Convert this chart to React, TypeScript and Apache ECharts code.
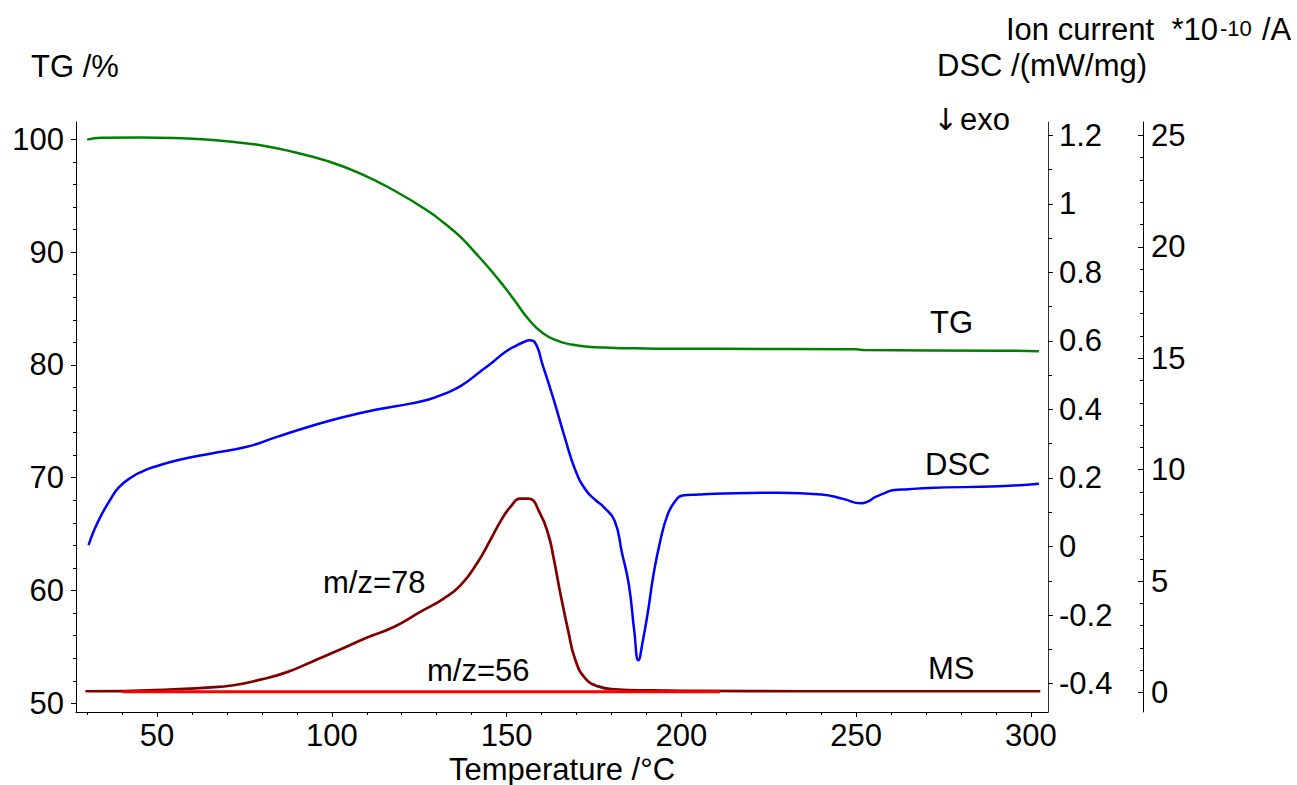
import React, { useEffect, useRef } from "react";
import * as echarts from "echarts";

// ---- data ----
const tgT = [30, 34, 45, 55, 63, 72, 80, 89, 98.6, 108.2, 117.7, 127.2, 132, 136.8, 141, 145.3, 149, 152.3, 156.4, 160.4, 164.5, 168.6, 172.7, 177, 181, 187, 193, 210, 250, 252.3, 291, 302.3];
const tgV = [99.97, 100.13, 100.16, 100.12, 100.0, 99.75, 99.45, 98.87, 98.08, 96.96, 95.48, 93.71, 92.6, 91.35, 89.95, 88.45, 87.05, 85.7, 84.0, 82.8, 82.15, 81.8, 81.62, 81.55, 81.5, 81.47, 81.44, 81.42, 81.38, 81.32, 81.26, 81.21];

const dscT = [30.4, 32, 34, 36.5, 39, 42.8, 46, 49, 56.7, 65.2, 75.7, 84.3, 93.9, 103.4, 112.9, 122.5, 127.7, 132, 136.8, 142.5, 146, 149.5, 152.5, 155, 156.5, 158, 160.4, 163.5, 166.6, 169.7, 172.7, 175.5, 177.8, 180.9, 183, 185, 186.5, 187.7, 189, 190.5, 192, 194, 196, 198, 200.3, 205, 209.4, 227.9, 240.1, 246.3, 251.4, 253.5, 255.4, 258, 260.4, 265, 270.7, 291.1, 302.3];
const dscV = [0.004, 0.048, 0.091, 0.135, 0.172, 0.203, 0.22, 0.232, 0.254, 0.271, 0.291, 0.32, 0.351, 0.378, 0.4, 0.417, 0.429, 0.445, 0.468, 0.511, 0.538, 0.567, 0.585, 0.597, 0.602, 0.597, 0.527, 0.428, 0.32, 0.222, 0.164, 0.135, 0.115, 0.075, -0.018, -0.113, -0.244, -0.332, -0.274, -0.186, -0.084, 0.018, 0.091, 0.129, 0.149, 0.152, 0.154, 0.157, 0.152, 0.139, 0.126, 0.132, 0.144, 0.155, 0.164, 0.167, 0.171, 0.176, 0.183];

const ms78T = [29.5, 40.4, 54.7, 64.3, 71.9, 79.5, 87.2, 94.8, 102.4, 110.1, 117.7, 125.3, 132.0, 136.8, 141.5, 145.3, 148.5, 151.1, 154.0, 156.3, 159.6, 162.0, 163.4, 165.4, 167.6, 169.7, 172.5, 176.2, 181.1, 191.1, 205.4, 234, 302.7];
const ms78V = [0.06, 0.07, 0.15, 0.22, 0.33, 0.58, 0.92, 1.42, 1.93, 2.47, 2.94, 3.62, 4.22, 4.81, 5.79, 6.83, 7.75, 8.33, 8.7, 8.7, 8.03, 7.06, 6.08, 4.44, 2.79, 1.45, 0.64, 0.28, 0.15, 0.1, 0.08, 0.06, 0.06];

const ms56T = [40, 100, 150, 211];
const ms56V = [0.04, 0.04, 0.04, 0.04];

const xTicks = [50, 100, 150, 200, 250, 300];
const tgTicks = [50, 60, 70, 80, 90, 100];
const dscTicks = [-0.4, -0.2, 0, 0.2, 0.4, 0.6, 0.8, 1, 1.2];
const ionTicks = [0, 5, 10, 15, 20, 25];

const FONT = '"Liberation Sans", Arial, sans-serif';
const FS = 31;

const zip = (a: number[], b: number[]) => a.map((v, i) => [v, b[i]]);

export default function App() {
  const ref = useRef<HTMLDivElement>(null);
  useEffect(() => {
    if (!ref.current) return;
    const chart = echarts.init(ref.current, null, { renderer: "svg" });
    const labelStyle = { color: "#000", fontSize: FS, fontFamily: FONT };
    const lineStyle = { color: "#000", width: 1 };
    const txt = (x: number, y: number, text: string, extra: any = {}) => ({
      type: "text",
      x,
      y,
      style: { text, font: `${FS}px ${FONT}`, fill: "#000", align: "left", verticalAlign: "middle", ...extra },
    });
    chart.setOption({
      animation: false,
      backgroundColor: "#fff",
      grid: { left: 76, top: 122, width: 972, height: 590, containLabel: false },
      xAxis: {
        type: "value",
        min: 26.8,
        max: 304.9,
        splitNumber: 5,
        axisLine: { show: true, onZero: false, lineStyle },
        axisTick: { show: true, length: 5, customValues: xTicks, lineStyle },
        minorTick: { show: true, splitNumber: 5, length: 3, lineStyle: { color: "#000" } },
        axisLabel: { ...labelStyle, margin: 8, customValues: xTicks },
        splitLine: { show: false },
      },
      yAxis: [
        {
          type: "value",
          position: "left",
          min: 49.23,
          max: 101.53,
          splitNumber: 5,
          axisLine: { show: true, onZero: false, lineStyle },
          axisTick: { show: true, length: 5, customValues: tgTicks, lineStyle },
          minorTick: { show: true, splitNumber: 5, length: 3, lineStyle: { color: "#000" } },
          axisLabel: { ...labelStyle, margin: 12, customValues: tgTicks },
          splitLine: { show: false },
        },
        {
          type: "value",
          position: "right",
          offset: 0,
          min: -0.483,
          max: 1.239,
          splitNumber: 8,
          axisLine: { show: true, onZero: false, lineStyle: { color: "#333", width: 1 } },
          axisTick: { show: true, length: 5, customValues: dscTicks, lineStyle },
          minorTick: { show: true, splitNumber: 2, length: 4, lineStyle: { color: "#000" } },
          axisLabel: { ...labelStyle, margin: 11, customValues: dscTicks },
          splitLine: { show: false },
        },
        {
          type: "value",
          position: "right",
          offset: 95,
          min: -0.87,
          max: 25.6,
          splitNumber: 5,
          axisLine: { show: true, onZero: false, lineStyle },
          axisTick: { show: true, inside: true, length: 5, customValues: ionTicks, lineStyle },
          minorTick: { show: true, splitNumber: 5, length: 3, lineStyle: { color: "#000" } },
          axisLabel: { ...labelStyle, margin: 8, customValues: ionTicks },
          splitLine: { show: false },
        },
      ],
      series: [
        {
          name: "TG",
          type: "line",
          yAxisIndex: 0,
          data: zip(tgT, tgV),
          showSymbol: false,
          smooth: 0.5,
          lineStyle: { color: "#008000", width: 2.5 },
          z: 3,
        },
        {
          name: "DSC",
          type: "line",
          yAxisIndex: 1,
          data: zip(dscT, dscV),
          showSymbol: false,
          smooth: 0.5,
          lineStyle: { color: "#0000ff", width: 2.5 },
          z: 3,
        },
        {
          name: "m/z=78",
          type: "line",
          yAxisIndex: 2,
          data: zip(ms78T, ms78V),
          showSymbol: false,
          smooth: 0.5,
          lineStyle: { color: "#800000", width: 2.7 },
          z: 3,
        },
        {
          name: "m/z=56",
          type: "line",
          yAxisIndex: 2,
          data: zip(ms56T, ms56V),
          showSymbol: false,
          lineStyle: { color: "#ff0000", width: 3 },
          z: 4,
        },
      ],
      graphic: [
        txt(31, 66, "TG /%"),
        txt(1006, 29, "Ion current  *10"),
        { type: "text", x: 1220, y: 17, style: { text: "-10", font: `22px ${FONT}`, fill: "#000", align: "left", verticalAlign: "top" } },
        txt(1262, 29, "/A"),
        txt(937, 65, "DSC /(mW/mg)"),
        txt(933, 119, "↓", { font: `30px "DejaVu Sans", sans-serif` }),
        txt(960, 119, "exo"),
        txt(930, 322, "TG"),
        txt(925, 464, "DSC"),
        txt(928, 668, "MS"),
        txt(323, 582, "m/z=78"),
        txt(427, 670, "m/z=56"),
        txt(562, 769, "Temperature /°C", { align: "center" }),
      ],
    });
    return () => chart.dispose();
  }, []);
  return (
    <div
      ref={ref}
      style={{ position: "fixed", left: 0, top: 0, width: 1297, height: 785, background: "#fff" }}
    />
  );
}
